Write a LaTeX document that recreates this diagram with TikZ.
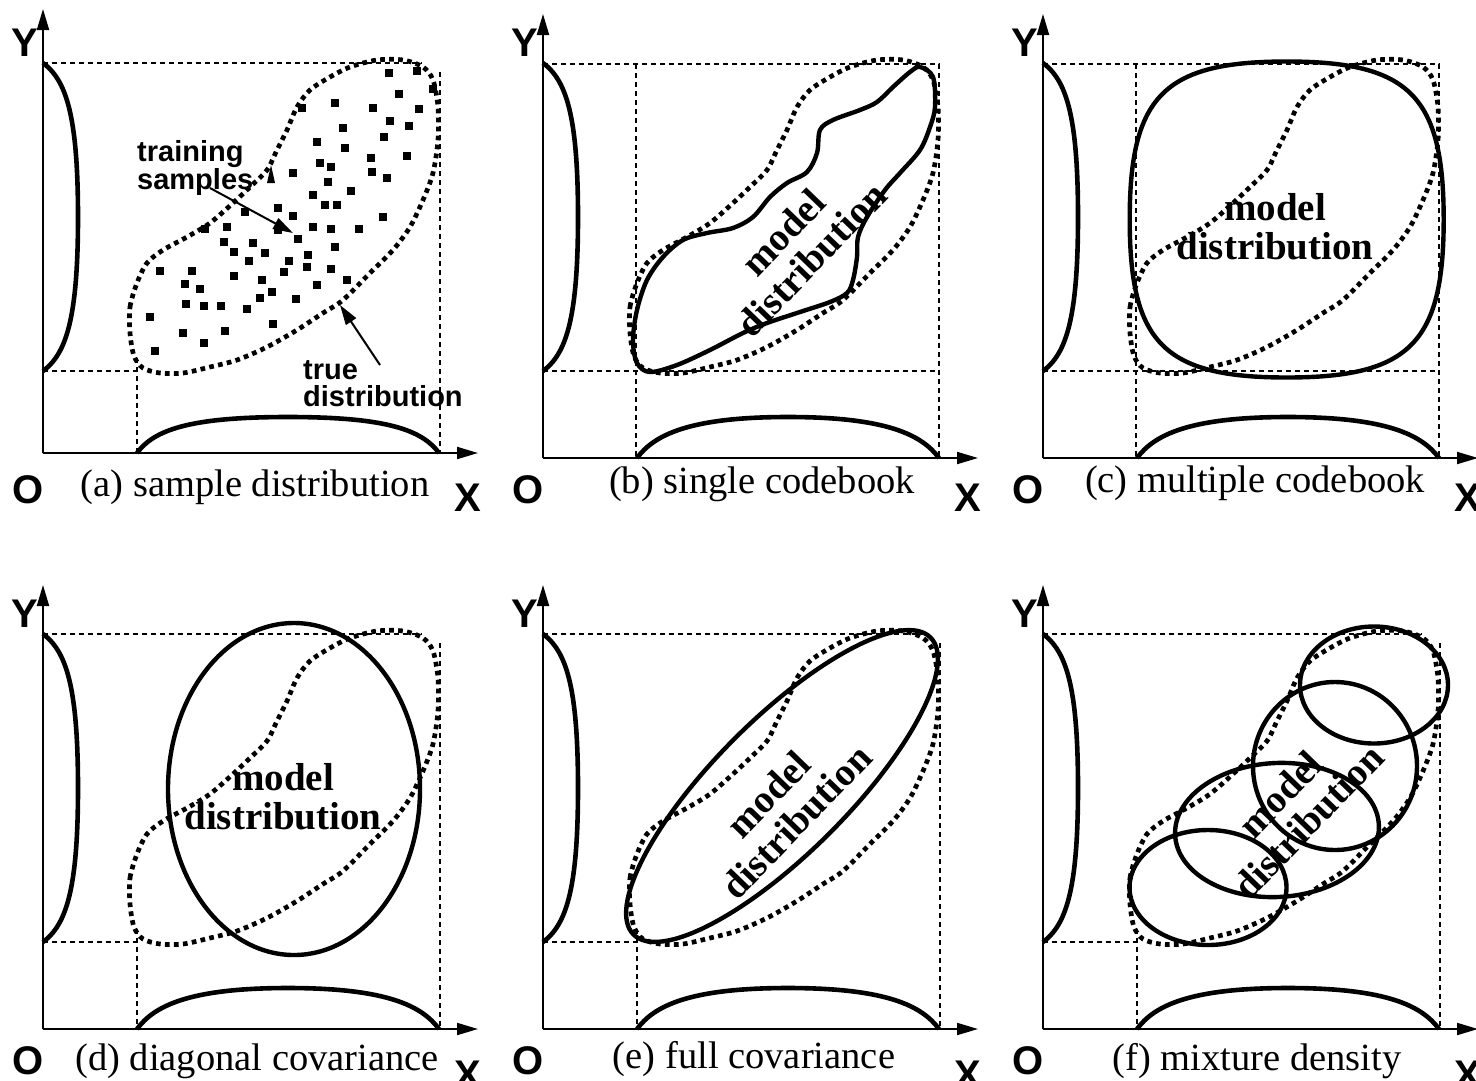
\documentclass[tikz,border=0pt]{standalone}
\usepackage{fontspec}
\setmainfont{Liberation Serif}
\setsansfont{Liberation Sans}
\usetikzlibrary{arrows.meta}
\newcommand\TDpath{plot[smooth cycle] coordinates {(130,333) (130,307) (137,283) (147,263) (163,250) (187,237) (210,223) (233,203) (250,187) (267,170) (277,150) (287,130) (297,107) (310,90) (330,77) (350,67) (377,60) (403,60) (423,67) (433,80) (438,107) (438,140) (433,173) (423,200) (410,227) (393,250) (370,273) (343,300) (323,313) (297,330) (267,347) (237,360) (210,367) (183,373) (160,373) (143,368) (134,356)}}
\newcommand\panelaxes[3]{%
  \coordinate (#1o) at (43,#2);
  \coordinate (#1yt) at (43,#2-444);
  \coordinate (#1xt) at (478,#2);
  \draw[axisline] (#1o) -- (#1yt);
  \draw[axisline] (#1o) -- (#1xt);
  \draw[marg] (43,63) .. controls (66,80) and (78,115) .. (78,217) .. controls (78,319) and (66,354) .. (43,371);
  \draw[marg] (137,#2) .. controls (154,#2-23) and (189,417) .. (288,417) .. controls (387,417) and (422,#2-23) .. (439,#2);
  \node[axlab] (#1Y) at (25,43) {Y};
  \node[axlab] (#1O) at (28,490) {O};
  \node[axlab] (#1X) at (468,#3) {X};
}
\newcommand\guidesfull[1]{%
  \draw[guide] (43,64) -- (439,64) -- (439,#1);
  \draw[guide] (43,371) -- (439,371);
  \draw[guide] (136,64) -- (136,#1);
}
\newcommand\guidespart[1]{%
  \draw[guide] (43,63) -- (422,63);
  \draw[guide] (440,72) -- (440,#1);
  \draw[guide] (43,371) -- (137,371);
  \draw[guide] (137,358) -- (137,#1);
}
\begin{document}
\begin{tikzpicture}[x=1pt,y=-1pt,
  axisline/.style={line width=2pt,-{Triangle[length=21pt,width=12pt]}},
  ptr/.style={line width=2pt,-{Triangle[length=20pt,width=12pt]}},
  guide/.style={line width=1.8pt,dash pattern=on 5pt off 4pt},
  truedist/.style={line width=4.7pt,dash pattern=on 4.7pt off 4.3pt},
  model/.style={line width=4.4pt},
  marg/.style={line width=4.6pt},
  axlab/.style={font=\sffamily\bfseries\fontsize{40}{40}\selectfont, inner sep=0pt},
  captext/.style={font=\fontsize{38.5}{40}\selectfont, inner sep=0pt, anchor=base},
  mlab/.style={font=\bfseries\fontsize{39}{39}\selectfont, align=center, inner sep=0pt},
  note/.style={font=\sffamily\bfseries\fontsize{29}{27}\selectfont, align=left, inner sep=0pt, anchor=west},
  sample/.style={fill=black}
]
\useasboundingbox (0,0) rectangle (1476,1080);

% ---------------- (a) ----------------
\begin{scope}
  \guidespart{453}
  \draw[truedist] \TDpath;
  \panelaxes{a}{453}{498}
  \foreach \sx/\sy in {389/73, 417/71, 433/89, 399/94, 335/103, 373/108, 419/109, 302/108, 390/121, 409/126, 343/128, 317/142, 384/137, 345/148, 371/158, 407/156, 320/163, 331/167, 293/173, 372/172, 387/178, 328/182, 351/191, 313/195, 325/205, 337/205, 278/208, 245/212, 293/216, 383/217, 205/229, 227/227, 278/230, 313/227, 331/229, 359/229, 298/239, 224/242, 253/243, 335/247, 234/252, 265/253, 308/255, 249/261, 289/261, 307/267, 331/269, 160/271, 192/271, 284/272, 234/276, 262/280, 347/280, 185/284, 200/289, 272/292, 317/285, 260/298, 296/299, 186/304, 204/306, 221/306, 247/309, 150/317, 273/324, 183/333, 225/331, 204/343, 155/351}
    \fill[sample] (\sx-3.7,\sy-3.7) rectangle ++(7.4,7.4);
  \fill (271,165) -- (267,183) -- (275,183) -- cycle;
  \node[note] (ts) at (137,168) {training\\samples};
  \node[note] (td) at (303,384) {true\\distribution};
  \coordinate (tsfrom) at (210,188);
  \coordinate (tsto) at (293,233);
  \draw[ptr] (tsfrom) -- (tsto);
  \coordinate (tdfrom) at (380,365);
  \coordinate (tdto) at (340,305);
  \draw[ptr] (tdfrom) -- (tdto);
  \node[captext] (capa) at (255,496) {(a) sample distribution};
\end{scope}

% ---------------- (b) ----------------
\begin{scope}[shift={(500,0)}]
  \guidesfull{458}
  \draw[truedist] \TDpath;
  \panelaxes{b}{458}{498}
  \draw[model] plot[smooth cycle, tension=0.55] coordinates {(420,67) (433,77) (435,107) (430,127) (420,150) (400,173) (385,190) (367,217) (358,237) (357,257) (353,280) (347,293) (330,302) (300,312) (267,323) (243,333) (210,350) (177,365) (150,372) (137,363) (133,340) (137,310) (147,280) (163,257) (183,240) (207,233) (233,228) (253,217) (270,197) (287,183) (307,172) (317,153) (320,130) (333,120) (360,110) (377,102) (393,87) (410,72)};
  \node[mlab, rotate=46] (mb) at (297,246) {model\\distribution};
  \node[captext] (capb) at (262,493) {(b) single codebook};
\end{scope}

% ---------------- (c) ----------------
\begin{scope}[shift={(1000,0)}]
  \guidesfull{458}
  \draw[truedist] \TDpath;
  \panelaxes{c}{458}{498}
  \draw[model] (443.7,219.5) .. controls (443.7,96) and (409.5,61.5) .. (286.7,61.5)
     .. controls (164,61.5) and (129.7,96) .. (129.7,219.5)
     .. controls (129.7,343) and (164,377.5) .. (286.7,377.5)
     .. controls (409.5,377.5) and (443.7,343) .. (443.7,219.5) -- cycle;
  \node[mlab] (mc) at (275,227) {model\\distribution};
  \node[captext] (capc) at (255,492) {(c) multiple codebook};
\end{scope}

% ---------------- (d) ----------------
\begin{scope}[shift={(0,571)}]
  \guidespart{458}
  \draw[truedist] \TDpath;
  \panelaxes{d}{458}{504}
  \draw[model] (294,218) ellipse [x radius=126, y radius=166];
  \node[mlab] (md) at (283,226) {model\\distribution};
  \node[captext] (capd) at (257,499) {(d) diagonal covariance};
\end{scope}

% ---------------- (e) ----------------
\begin{scope}[shift={(500,571)}]
  \guidespart{458}
  \draw[truedist] \TDpath;
  \panelaxes{e}{458}{504}
  \draw[model, rotate around={45:(282,215)}] (282,215) ellipse [x radius=210, y radius=67];
  \node[mlab, rotate=46] (me) at (282,237) {model\\distribution};
  \node[captext] (cape) at (254,497) {(e) full covariance};
\end{scope}

% ---------------- (f) ----------------
\begin{scope}[shift={(1000,571)}]
  \guidespart{458}
  \draw[truedist] \TDpath;
  \panelaxes{f}{458}{504}
  \draw[model] (374,114) ellipse [x radius=74, y radius=58.5];
  \draw[model] (335,195) ellipse [x radius=82, y radius=84];
  \draw[model, rotate around={3:(277,259)}] (277,259) ellipse [x radius=102, y radius=67];
  \draw[model] (208,316.5) ellipse [x radius=78.5, y radius=57.5];
  \node[mlab, rotate=46] (mf) at (294,237) {model\\distribution};
  \node[captext] (capf) at (257,499) {(f) mixture density};
\end{scope}
\end{tikzpicture}
\end{document}
